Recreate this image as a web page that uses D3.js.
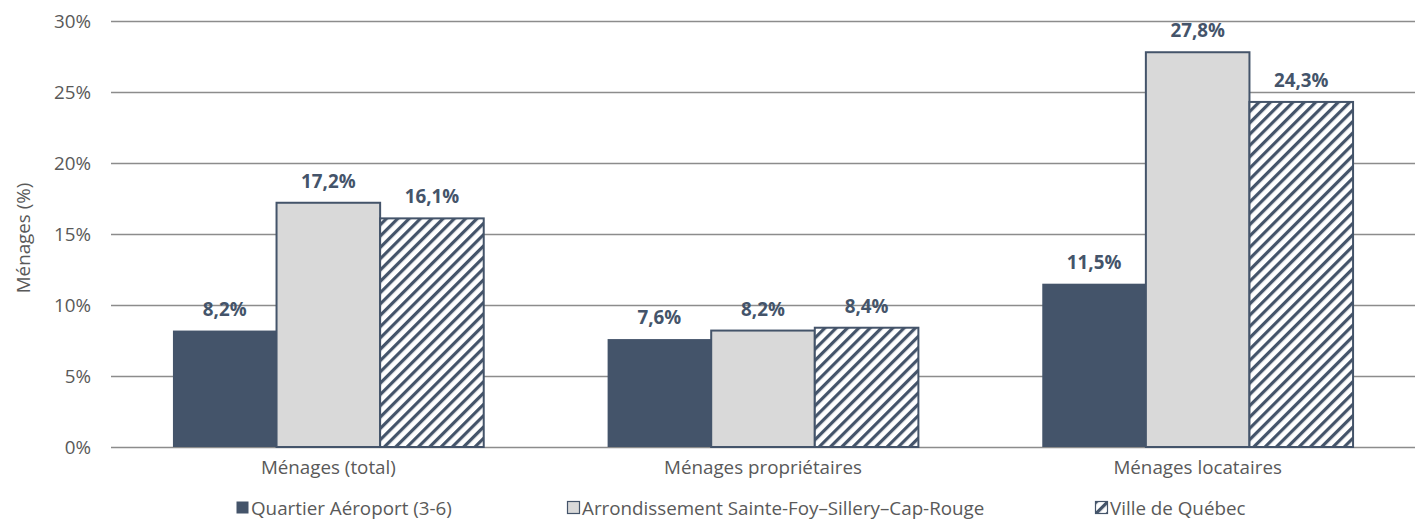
<!DOCTYPE html>
<html>
<head>
<meta charset="utf-8">
<script src="https://cdn.jsdelivr.net/npm/d3@7"></script>
<style>
  html, body { margin: 0; padding: 0; background: #fff; }
  svg { display: block; }
  text { font-family: "Open Sans", "Liberation Sans", sans-serif; }
</style>
</head>
<body>
<svg id="chart" width="1421" height="519"></svg>
<script>
// Categories, series and their values (%)
const categories = ["Ménages (total)", "Ménages propriétaires", "Ménages locataires"];
const seriesNames = ["Quartier Aéroport (3-6)", "Arrondissement Sainte-Foy–Sillery–Cap-Rouge", "Ville de Québec"];
const quartier = [8.2, 7.6, 11.5];
const arrondissement = [17.2, 8.2, 27.8];
const ville = [16.1, 8.4, 24.3];
const yTicks = [0, 5, 10, 15, 20, 25, 30];

const seriesValues = [quartier, arrondissement, ville];
const rows = categories.map((c, i) => ({ category: c, values: seriesValues.map(s => s[i]) }));

const svg = d3.select("#chart");
const margin = { left: 111, right: 6, top: 21, bottom: 72 };
const width = 1421, height = 519;

const dark = "#44546a";
const lightFill = "#d9d9d9";
const textGrey = "#595959";
const fs = 18.8;

// Diagonal hatch used by the third series
const defs = svg.append("defs");
const pat = defs.append("pattern")
  .attr("id", "hatch")
  .attr("patternUnits", "userSpaceOnUse")
  .attr("width", 8).attr("height", 8)
  .attr("patternTransform", "rotate(45)");
pat.append("rect").attr("width", 8).attr("height", 8).attr("fill", "#fff");
pat.append("rect").attr("x", 0).attr("y", 0).attr("width", 3.2).attr("height", 8).attr("fill", dark);

const fills = [dark, lightFill, "url(#hatch)"];

const x0 = d3.scaleBand()
  .domain(categories)
  .range([margin.left, width - margin.right])
  .paddingInner(0.285)
  .paddingOuter(0.1425);

const x1 = d3.scaleBand()
  .domain(d3.range(seriesNames.length))
  .range([0, x0.bandwidth()]);

const y = d3.scaleLinear().domain([0, 30]).range([height - margin.bottom, margin.top]);

// Horizontal gridlines and value axis
const yAxis = d3.axisLeft(y)
  .tickValues(yTicks)
  .tickSize(-(width - margin.right - margin.left))
  .tickFormat(d => d + "%")
  .tickPadding(20);

const gy = svg.append("g")
  .attr("transform", `translate(${margin.left},0)`)
  .call(yAxis);
gy.select(".domain").remove();
gy.selectAll(".tick line").attr("stroke", "#8c8c8c").attr("stroke-width", 1.3);
gy.selectAll(".tick text").attr("fill", textGrey).attr("font-size", fs);

// Bars
const groups = svg.append("g").selectAll("g")
  .data(rows)
  .join("g")
  .attr("transform", d => `translate(${x0(d.category)},0)`);

groups.selectAll("rect")
  .data(d => d.values.map((v, i) => ({ v, i })))
  .join("rect")
  .attr("x", d => x1(d.i))
  .attr("y", d => y(d.v))
  .attr("width", x1.bandwidth())
  .attr("height", d => y(0) - y(d.v))
  .attr("fill", d => fills[d.i])
  .attr("stroke", d => d.i === 0 ? "none" : dark)
  .attr("stroke-width", 2);

// Value labels
const fmt = v => d3.format(".1f")(v).replace(".", ",") + "%";
groups.selectAll("text.val")
  .data(d => d.values.map((v, i) => ({ v, i })))
  .join("text")
  .attr("class", "val")
  .attr("x", d => x1(d.i) + x1.bandwidth() / 2)
  .attr("y", d => y(d.v) - 15)
  .attr("text-anchor", "middle")
  .attr("fill", dark)
  .attr("font-size", fs)
  .attr("font-weight", "bold")
  .text(d => fmt(d.v));

// Category axis
const xAxis = d3.axisBottom(x0).tickSize(0).tickPadding(14);
const gx = svg.append("g")
  .attr("transform", `translate(0,${y(0)})`)
  .call(xAxis);
gx.select(".domain").remove();
gx.selectAll(".tick text").attr("fill", textGrey).attr("font-size", fs);

// Y axis title
svg.append("text")
  .attr("transform", `translate(30,${(y(0) + y(30)) / 2 + 4}) rotate(-90)`)
  .attr("text-anchor", "middle")
  .attr("fill", textGrey)
  .attr("font-size", fs)
  .text("Ménages (%)");

// Legend
const legendX = [236, 567, 1095];
const legend = svg.append("g").selectAll("g")
  .data(seriesNames)
  .join("g")
  .attr("transform", (d, i) => `translate(${legendX[i]},501)`);
legend.append("rect")
  .attr("x", 0.5).attr("y", 0.5)
  .attr("width", 12).attr("height", 12)
  .attr("fill", (d, i) => fills[i])
  .attr("stroke", (d, i) => i === 0 ? "none" : dark)
  .attr("stroke-width", 1.2);
legend.append("text")
  .attr("x", 15)
  .attr("y", 13.5)
  .attr("fill", textGrey)
  .attr("font-size", fs)
  .text(d => d);
</script>
</body>
</html>
